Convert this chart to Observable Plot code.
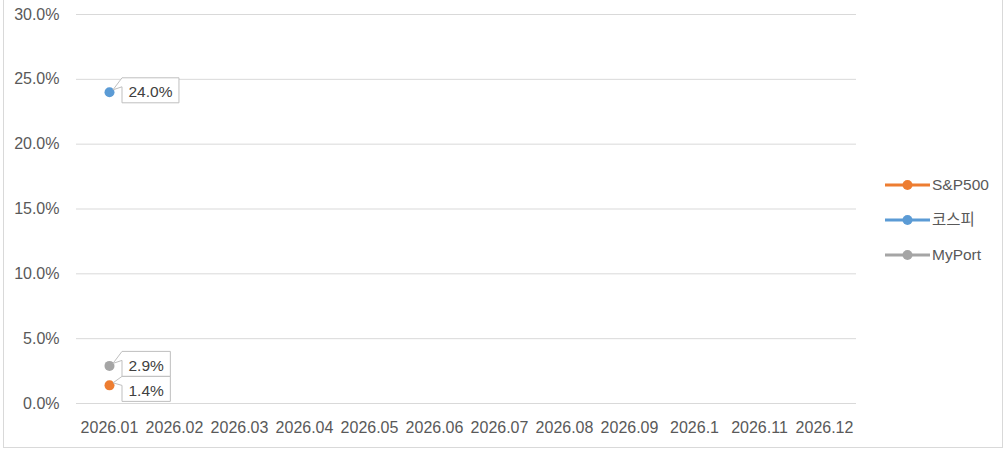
<!DOCTYPE html>
<html>
<head>
<meta charset="utf-8">
<script src="https://cdn.jsdelivr.net/npm/d3@7"></script>
<script src="https://cdn.jsdelivr.net/npm/@observablehq/plot@0.6"></script>
<style>
  html, body { margin: 0; padding: 0; background: #fff; }
  #wrap { position: relative; width: 1008px; height: 454px; overflow: hidden;
          font-family: "Liberation Sans", "Noto Sans CJK KR", sans-serif; }
  #frame { position: absolute; left: 3px; top: -2px; width: 1000px; height: 450px;
           border: 1px solid #d9d9d9; box-sizing: border-box; }
  #chart { position: absolute; left: 0; top: 0; }
  .leg { position: absolute; left: 885px; height: 20px; line-height: 20px; display: flex;
         align-items: center; font-size: 15.5px; color: #595959; white-space: nowrap; }
  .leg svg { display: block; margin-right: 1px; }
</style>
</head>
<body>
<div id="wrap">
  <div id="frame"></div>
  <div id="chart"></div>
  <div id="legend"></div>
</div>
<script>
// ---- data ----
const months = ["2026.01","2026.02","2026.03","2026.04","2026.05","2026.06",
                "2026.07","2026.08","2026.09","2026.1","2026.11","2026.12"];
const seriesNames = ["S&P500", "코스피", "MyPort"];
const seriesColors = ["#ED7D31", "#5B9BD5", "#A5A5A5"];
const spx = [0.014];
const kospi = [0.24];
const myport = [0.029];
const yTicks = [0, 0.05, 0.10, 0.15, 0.20, 0.25, 0.30];

const seriesValues = [spx, kospi, myport];
const rows = [];
seriesValues.forEach((vals, s) => {
  vals.forEach((v, i) => rows.push({ month: months[i], value: v, series: seriesNames[s] }));
});
const pct = d => (d * 100).toFixed(1) + "%";

const labelDx = 19;

const plot = Plot.plot({
  width: 1008,
  height: 454,
  marginLeft: 76,
  marginRight: 152,
  marginTop: 14,
  marginBottom: 51,
  style: { fontFamily: '"Liberation Sans", "Noto Sans CJK KR", sans-serif', fontSize: "16px", color: "#595959", background: "transparent" },
  x: { type: "point", domain: months, padding: 0.5 },
  y: { domain: [0, 0.30] },
  color: { domain: seriesNames, range: seriesColors },
  marks: [
    Plot.gridY(yTicks, { stroke: "#d9d9d9", strokeOpacity: 1, strokeWidth: 1 }),
    Plot.axisY({ ticks: yTicks, tickSize: 0, tickPadding: 17, tickFormat: pct, label: null, fontSize: 16 }),
    Plot.axisX({ tickSize: 0, tickPadding: 18, label: null, fontSize: 16 }),
    Plot.line(rows, { x: "month", y: "value", z: "series", stroke: "series", strokeWidth: 3 }),
    Plot.dot(rows, { x: "month", y: "value", fill: "series", r: 5, stroke: "none" }),
    Plot.text(rows, { x: "month", y: "value", text: d => pct(d.value), textAnchor: "start", dx: labelDx, fill: "#404040", fontSize: 15.5 })
  ]
});
document.getElementById("chart").appendChild(plot);

// ---- data label callout boxes ----
(function () {
  const sx = plot.scale("x"), sy = plot.scale("y");
  const textGroup = plot.querySelector('g[aria-label="text"]');
  if (!textGroup) return;
  const texts = Array.from(textGroup.querySelectorAll("text"));
  const ns = "http://www.w3.org/2000/svg";
  const layer = document.createElementNS(ns, "g");
  textGroup.parentNode.insertBefore(layer, textGroup);
  const items = texts.map(t => {
    const d = rows.find(r => pct(r.value) === t.textContent) || rows[0];
    const px = sx.apply(d.month), py = sy.apply(d.value);
    return { t, px, py, w: t.getComputedTextLength() };
  }).sort((a, b) => a.py - b.py);
  let prevBottom = -Infinity;
  items.forEach(it => {
    const start = it.px + labelDx;
    const L = start - 6, R = start + it.w + 7;
    let T = it.py - 14;
    let shift = 0;
    if (T < prevBottom) { shift = prevBottom - T; T = prevBottom; }
    const B = T + 25;
    prevBottom = B;
    if (shift) {
      const tr = it.t.getAttribute("transform") || "";
      it.t.setAttribute("transform", `translate(0,${shift}) ` + tr);
    }
    const tipX = it.px + 4, tipY = it.py - 2;
    const p = document.createElementNS(ns, "path");
    p.setAttribute("d", `M${L},${T}H${R}V${B}H${L}V${T + 9}L${tipX},${tipY}Z`);
    p.setAttribute("fill", "#ffffff");
    p.setAttribute("stroke", "#bfbfbf");
    p.setAttribute("stroke-width", "1");
    layer.appendChild(p);
  });
})();

// ---- legend (right side) ----
const legend = document.getElementById("legend");
const legendY = [185, 220, 255];
seriesNames.forEach((name, i) => {
  const item = document.createElement("div");
  item.className = "leg";
  item.style.top = (legendY[i] - 10) + "px";
  item.innerHTML = `<svg width="46" height="12"><line x1="0" y1="6" x2="45" y2="6" stroke="${seriesColors[i]}" stroke-width="3"/><circle cx="22.5" cy="6" r="5" fill="${seriesColors[i]}"/></svg><span></span>`;
  item.querySelector("span").textContent = name;
  legend.appendChild(item);
});
</script>
</body>
</html>
